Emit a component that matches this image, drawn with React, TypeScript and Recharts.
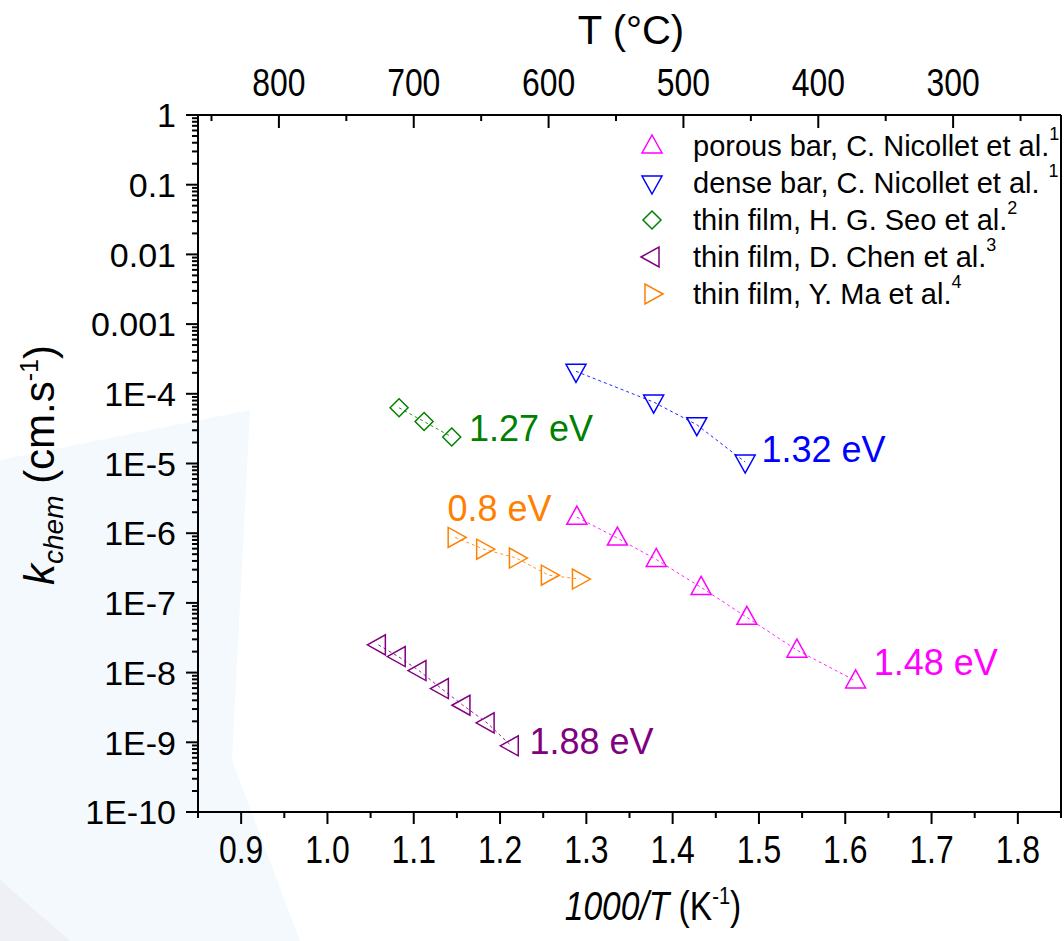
import React from "react";
import { ScatterChart, Scatter, XAxis, YAxis, ReferenceDot } from "recharts";

// 1000/T (K^-1) and k_chem (cm/s)
const porousX = [1.289, 1.336, 1.381, 1.433, 1.486, 1.544, 1.612];
const porousK = [1.7e-6, 8.5e-7, 4.2e-7, 1.67e-7, 6.2e-8, 2.1e-8, 7.6e-9];

const denseX = [1.288, 1.378, 1.428, 1.484];
const denseK = [2.1e-4, 7.6e-5, 3.6e-5, 1.05e-5];

const seoX = [1.083, 1.112, 1.144];
const seoK = [6.3e-5, 4.0e-5, 2.4e-5];

const chenX = [1.059, 1.082, 1.106, 1.132, 1.157, 1.185, 1.213];
const chenK = [2.5e-8, 1.7e-8, 1.07e-8, 5.9e-9, 3.4e-9, 1.9e-9, 8.9e-10];

const maX = [1.148, 1.181, 1.219, 1.256, 1.292];
const maK = [8.7e-7, 5.9e-7, 4.4e-7, 2.5e-7, 2.2e-7];

const majorX = [0.9, 1.0, 1.1, 1.2, 1.3, 1.4, 1.5, 1.6, 1.7, 1.8];
const minorX = [0.85, 0.95, 1.05, 1.15, 1.25, 1.35, 1.45, 1.55, 1.65, 1.75, 1.85];
const majorT = [800, 700, 600, 500, 400, 300];
const minorT = [850, 750, 650, 550, 450, 350, 250];
const decades = [-10, -9, -8, -7, -6, -5, -4, -3, -2, -1, 0];
const yLabels = ["1E-10", "1E-9", "1E-8", "1E-7", "1E-6", "1E-5", "1E-4", "0.001", "0.01", "0.1", "1"];

const PINK = "#ff00ff";
const BLUE = "#0000ff";
const GREEN = "#008000";
const PURPLE = "#800080";
const ORANGE = "#ff8000";

const SANS = "'Liberation Sans', Arial, sans-serif";

const toPoints = (xs: number[], ks: number[]) => xs.map((x, i) => ({ x, k: ks[i] }));

const majorY = decades.map((e) => Number(`1e${e}`));
const minorY: number[] = [];
decades.slice(0, -1).forEach((e) => {
  for (let m = 2; m <= 9; m++) minorY.push(Number(`${m}e${e}`));
});
const yTicks = [...majorY, ...minorY].sort((a, b) => a - b);
const xTicks = [...majorX, ...minorX].sort((a, b) => a - b);
// top axis runs high -> low from left to right, so it is plotted as -T
const tTicks = [...majorT, ...minorT].map((t) => -t).sort((a, b) => a - b);
// chart-level rows so the top (°C) axis has something to hang on
const topRows = majorT.map((t) => ({ t: -t }));

type MarkerKind = "up" | "down" | "diamond" | "left" | "right";

const markerPath = (kind: MarkerKind, cx: number, cy: number) => {
  switch (kind) {
    case "up":
      return `M${cx},${cy - 11} L${cx + 10},${cy + 7} L${cx - 10},${cy + 7} Z`;
    case "down":
      return `M${cx},${cy + 11} L${cx + 10},${cy - 7} L${cx - 10},${cy - 7} Z`;
    case "diamond":
      return `M${cx},${cy - 9} L${cx + 9},${cy} L${cx},${cy + 9} L${cx - 9},${cy} Z`;
    case "left":
      return `M${cx - 11},${cy} L${cx + 7},${cy - 10} L${cx + 7},${cy + 10} Z`;
    default:
      return `M${cx + 11},${cy} L${cx - 7},${cy - 10} L${cx - 7},${cy + 10} Z`;
  }
};

const makeShape = (kind: MarkerKind, color: string) => (props: any) => {
  const { cx, cy } = props;
  if (cx == null || cy == null) return <g />;
  return <path d={markerPath(kind, cx, cy)} fill="none" stroke={color} strokeWidth={1.5} />;
};

const near = (a: number, b: number) => Math.abs(a - b) < 1e-6;

// narrow-looking text (Arial Narrow style) by squeezing Liberation Sans
const NarrowText = ({ x, y, size, children, anchor = "middle" }: any) => (
  <text
    transform={`translate(${x},${y}) scale(0.84,1)`}
    textAnchor={anchor}
    fontSize={size}
    fontFamily={SANS}
    fill="#000"
  >
    {children}
  </text>
);

const YTick = (props: any) => {
  const { x, y, payload } = props;
  const v = payload.value;
  const idx = majorY.findIndex((m) => near(Math.log10(m), Math.log10(v)));
  const len = idx >= 0 ? 12 : 6;
  return (
    <g>
      <line x1={x} x2={x - len} y1={y} y2={y} stroke="#000" strokeWidth={2} />
      {idx >= 0 && (
        <text x={x - 22} y={y} dy="0.36em" textAnchor="end" fontSize={34} fontFamily={SANS} fill="#000">
          {yLabels[idx]}
        </text>
      )}
    </g>
  );
};

const XTick = (props: any) => {
  const { x, y, payload } = props;
  const isMajor = majorX.some((m) => near(m, payload.value));
  return (
    <g>
      <line x1={x} x2={x} y1={y} y2={y + (isMajor ? 12 : 6)} stroke="#000" strokeWidth={2} />
      {isMajor && (
        <NarrowText x={x} y={y + 51} size={38}>
          {payload.value.toFixed(1)}
        </NarrowText>
      )}
    </g>
  );
};

const TTick = (props: any) => {
  const { x, y, payload } = props;
  const t = -payload.value;
  const isMajor = majorT.includes(t);
  return (
    <g>
      <line x1={x} x2={x} y1={y} y2={y + (isMajor ? 13 : 6)} stroke="#000" strokeWidth={2} />
      {isMajor && (
        <NarrowText x={x} y={y - 19} size={38}>
          {t}
        </NarrowText>
      )}
    </g>
  );
};

const EvLabel = (props: any) => {
  const { viewBox, text, color } = props;
  if (!viewBox) return null;
  return (
    <text x={viewBox.x} y={viewBox.y} dy="0.36em" fontSize={36} fontFamily={SANS} fill={color}>
      {text}
    </text>
  );
};

const evLabels = [
  { x: 1.164, k: 3.2e-5, text: "1.27 eV", color: GREEN },
  { x: 1.503, k: 1.6e-5, text: "1.32 eV", color: BLUE },
  { x: 1.139, k: 2.3e-6, text: "0.8 eV", color: ORANGE },
  { x: 1.633, k: 1.4e-8, text: "1.48 eV", color: PINK },
  { x: 1.234, k: 1.05e-9, text: "1.88 eV", color: PURPLE },
];

const legendItems: { kind: MarkerKind; color: string; label: string; sup: string; gap: boolean }[] = [
  { kind: "up", color: PINK, label: "porous bar, C. Nicollet et al.", sup: "1", gap: false },
  { kind: "down", color: BLUE, label: "dense bar, C. Nicollet et al.", sup: "1", gap: true },
  { kind: "diamond", color: GREEN, label: "thin film, H. G. Seo et al.", sup: "2", gap: false },
  { kind: "left", color: PURPLE, label: "thin film, D. Chen et al.", sup: "3", gap: false },
  { kind: "right", color: ORANGE, label: "thin film, Y. Ma et al.", sup: "4", gap: false },
];

const series = [
  { name: "porous", xs: porousX, ks: porousK, kind: "up" as MarkerKind, color: PINK },
  { name: "dense", xs: denseX, ks: denseK, kind: "down" as MarkerKind, color: BLUE },
  { name: "seo", xs: seoX, ks: seoK, kind: "diamond" as MarkerKind, color: GREEN },
  { name: "chen", xs: chenX, ks: chenK, kind: "left" as MarkerKind, color: PURPLE },
  { name: "ma", xs: maX, ks: maK, kind: "right" as MarkerKind, color: ORANGE },
];

export default function App() {
  return (
    <div style={{ position: "absolute", left: 0, top: 0, width: 1064, height: 941, background: "#fff" }}>
      <svg width={1064} height={941} style={{ position: "absolute", left: 0, top: 0 }}>
        <polygon points="0,460 250,410 232,760 300,941 0,941" fill="#f3f9fd" />
        <polygon points="0,880 70,941 0,941" fill="#eef0f5" />
      </svg>
      <div style={{ position: "absolute", left: 0, top: 0 }}>
        <ScatterChart
          width={1064}
          height={941}
          data={topRows}
          margin={{ top: 65, right: 0, bottom: 69, left: 78 }}
        >
          <XAxis
            xAxisId="bottom"
            dataKey="x"
            type="number"
            domain={[0.85, 1.85]}
            ticks={xTicks}
            interval={0}
            tickSize={0}
            tickMargin={0}
            tickLine={false}
            tick={<XTick />}
            height={60}
            allowDataOverflow
            axisLine={{ stroke: "#000", strokeWidth: 2 }}
          />
          <XAxis
            xAxisId="top"
            dataKey="t"
            orientation="top"
            type="number"
            domain={[-860, -220]}
            ticks={tTicks}
            interval={0}
            tickSize={0}
            tickMargin={0}
            tickLine={false}
            tick={<TTick />}
            height={50}
            allowDataOverflow
            axisLine={{ stroke: "#000", strokeWidth: 2 }}
          />
          <YAxis
            yAxisId="left"
            dataKey="k"
            type="number"
            scale="log"
            domain={[1e-10, 1]}
            ticks={yTicks}
            interval={0}
            tickSize={0}
            tickMargin={0}
            tickLine={false}
            tick={<YTick />}
            width={120}
            allowDataOverflow
            axisLine={{ stroke: "#000", strokeWidth: 2 }}
          />
          <YAxis
            yAxisId="right"
            orientation="right"
            type="number"
            domain={[0, 1]}
            tick={false}
            tickLine={false}
            width={3}
            axisLine={{ stroke: "#000", strokeWidth: 2 }}
          />
          {series.map((s) => (
            <Scatter
              key={s.name}
              xAxisId="bottom"
              yAxisId="left"
              data={toPoints(s.xs, s.ks)}
              line={{ stroke: s.color, strokeWidth: 1, strokeDasharray: "3 3", strokeOpacity: 0.85 }}
              lineType="joint"
              shape={makeShape(s.kind, s.color)}
              isAnimationActive={false}
            />
          ))}
          {evLabels.map((l) => (
            <ReferenceDot
              key={l.text}
              xAxisId="bottom"
              yAxisId="left"
              x={l.x}
              y={l.k}
              r={0}
              fill="none"
              stroke="none"
              ifOverflow="visible"
              label={<EvLabel text={l.text} color={l.color} />}
            />
          ))}
        </ScatterChart>
      </div>
      <svg width={1064} height={941} style={{ position: "absolute", left: 0, top: 0, pointerEvents: "none" }}>
        <text x={631} y={44} textAnchor="middle" fontSize={40} fontFamily={SANS} fill="#000">
          T (°C)
        </text>
        <NarrowText x={653} y={920} size={40}>
          <tspan fontStyle="italic">1000/T</tspan>
          <tspan> (K</tspan>
          <tspan fontSize={24} dy={-16}>-1</tspan>
          <tspan dy={16}>)</tspan>
        </NarrowText>
        <text
          transform="translate(54,465) rotate(-90)"
          textAnchor="middle"
          fontSize={42}
          fontFamily={SANS}
          fill="#000"
        >
          <tspan fontStyle="italic">k</tspan>
          <tspan fontStyle="italic" fontSize={28} dy={9}>chem</tspan>
          <tspan dy={-9}> (cm.s</tspan>
          <tspan fontSize={25} dy={-16}>-1</tspan>
          <tspan dy={16}>)</tspan>
        </text>
        {legendItems.map((item, i) => {
          const cy = 146 + i * 37;
          return (
            <g key={item.label}>
              <path d={markerPath(item.kind, 652, cy)} fill="none" stroke={item.color} strokeWidth={1.5} />
              <text x={693} y={cy + 10} fontSize={29} fontFamily={SANS} fill="#000">
                {item.label}
                <tspan fontSize={18} dy={-16} dx={item.gap ? 9 : 0}>
                  {item.sup}
                </tspan>
              </text>
            </g>
          );
        })}
      </svg>
    </div>
  );
}
